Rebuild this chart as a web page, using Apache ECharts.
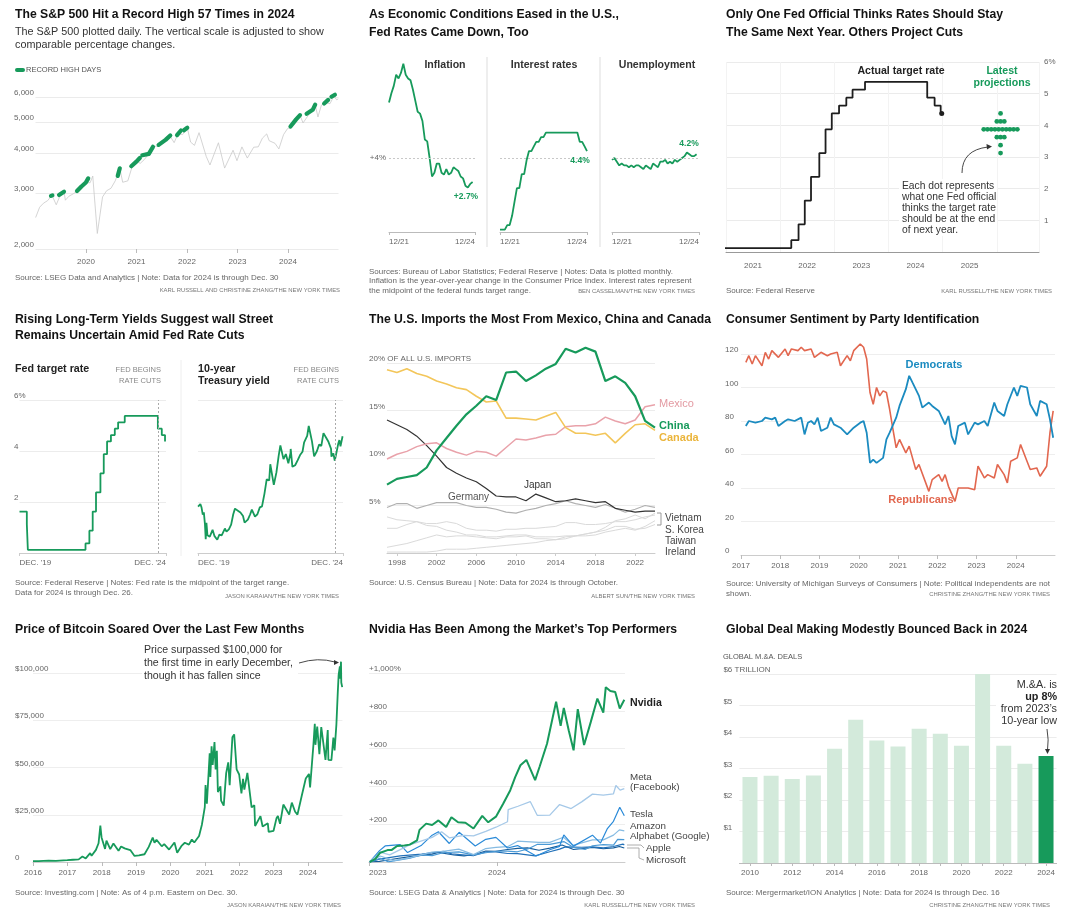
<!DOCTYPE html>
<html><head><meta charset="utf-8">
<script src="https://cdn.jsdelivr.net/npm/echarts@6/dist/echarts.min.js"></script>
<style>html,body{margin:0;padding:0;background:#fff}#c{width:1071px;height:921px}</style>
</head><body><div id="c"></div><script>
// ---------------- DATA ----------------
// Panel 1: S&P 500 (gray daily line, approximated) and record-high stretches
const spDates = ['2019-01-02','2019-01-31','2019-02-28','2019-03-29','2019-04-30','2019-05-31','2019-06-28','2019-07-26','2019-08-05','2019-08-30','2019-09-30','2019-10-31','2019-11-29','2019-12-31','2020-01-31','2020-02-19','2020-03-23','2020-04-30','2020-05-29','2020-06-30','2020-07-31','2020-09-02','2020-09-23','2020-10-30','2020-11-30','2020-12-31','2021-01-29','2021-02-26','2021-03-31','2021-04-30','2021-05-28','2021-06-30','2021-07-30','2021-08-31','2021-09-30','2021-10-29','2021-11-30','2022-01-03','2022-01-27','2022-02-24','2022-03-29','2022-05-20','2022-06-16','2022-08-16','2022-09-30','2022-10-12','2022-11-30','2022-12-28','2023-02-02','2023-03-13','2023-04-28','2023-05-31','2023-06-30','2023-07-31','2023-08-18','2023-09-29','2023-10-27','2023-11-30','2023-12-29','2024-01-31','2024-02-29','2024-03-28','2024-04-19','2024-05-31','2024-06-28','2024-07-16','2024-08-05','2024-08-30','2024-09-30','2024-10-31','2024-11-29','2024-12-06','2024-12-18','2024-12-30'];
const spValues = [2510,2704,2784,2834,2946,2752,2942,3025,2844,2926,2977,3038,3141,3231,3226,3386,2237,2912,3044,3100,3271,3580,3237,3270,3622,3756,3714,3811,3973,4181,4204,4298,4395,4523,4308,4605,4567,4797,4326,4225,4631,3901,3667,4305,3586,3577,4080,3783,4179,3855,4169,4180,4450,4589,4370,4288,4117,4568,4770,4846,5096,5254,4967,5278,5460,5667,5186,5648,5762,5705,6032,6090,5872,5907];
const spRecordStretches = [
  [['2019-04-23',2934],['2019-05-03',2946]],
  [['2019-06-20',2954],['2019-07-26',3025]],
  [['2019-10-28',3040],['2019-11-29',3141],['2019-12-31',3231],['2020-01-17',3330]],
  [['2020-08-18',3390],['2020-09-02',3580]],
  [['2020-11-24',3635],['2020-12-31',3756],['2021-01-25',3855]],
  [['2021-02-12',3934],['2021-03-31',3973],['2021-04-30',4181]],
  [['2021-06-10',4239],['2021-07-30',4395],['2021-09-02',4537]],
  [['2021-10-21',4549],['2021-11-18',4704]],
  [['2021-12-10',4712],['2022-01-03',4797]],
  [['2024-01-19',4840],['2024-02-29',5096],['2024-03-28',5254]],
  [['2024-05-15',5308],['2024-06-28',5460],['2024-07-16',5667]],
  [['2024-09-19',5714],['2024-10-18',5865]],
  [['2024-11-11',6001],['2024-12-06',6090]]
];
const spTicks = [2000,3000,4000,5000,6000];

// Panel 2: monthly from Dec 2021
const inflation = [7.0,7.5,7.9,8.5,8.3,8.6,9.1,8.5,8.3,8.2,7.7,7.1,6.5,6.4,6.0,5.0,4.9,4.0,3.0,3.2,3.7,3.7,3.2,3.1,3.4,3.1,3.2,3.5,3.4,3.3,3.0,2.9,2.5,2.4,2.6,2.7];
const interestRates = [0.125,0.125,0.125,0.375,0.375,0.875,1.625,2.375,2.375,3.125,3.125,3.875,4.375,4.375,4.625,4.875,4.875,5.125,5.125,5.375,5.375,5.375,5.375,5.375,5.375,5.375,5.375,5.375,5.375,5.375,5.375,5.375,5.375,4.875,4.875,4.625,4.375];
const unemployment = [3.9,4.0,3.8,3.6,3.7,3.6,3.6,3.5,3.6,3.5,3.6,3.6,3.5,3.4,3.6,3.5,3.4,3.7,3.6,3.5,3.8,3.8,3.9,3.7,3.8,3.7,3.9,3.8,3.9,4.0,4.1,4.3,4.2,4.1,4.1,4.2];

// Panels 3 & 4: fed target rate midpoint (change dates)
const fedDates = ['2019-12-01','2020-03-03','2020-03-16','2022-03-17','2022-05-05','2022-06-16','2022-07-28','2022-09-22','2022-11-03','2022-12-15','2023-02-02','2023-03-23','2023-05-04','2023-07-27','2024-09-19','2024-11-08','2024-12-19','2024-12-26'];
const fedRates = [1.625,1.125,0.125,0.375,0.875,1.625,2.375,3.125,3.875,4.375,4.625,4.875,5.125,5.375,4.875,4.625,4.375,4.375];
const projRates = [4.375,4.125,3.875,3.625,3.375,3.125];
const projCounts = [1,3,10,3,1,1];

// Panel 4: 10-year Treasury yield
const tyDates = ['2019-12-02','2019-12-31','2020-01-15','2020-01-31','2020-02-14','2020-02-28','2020-03-09','2020-03-18','2020-03-31','2020-04-15','2020-04-30','2020-05-15','2020-06-05','2020-06-30','2020-07-15','2020-08-04','2020-08-31','2020-09-30','2020-10-15','2020-11-10','2020-11-30','2020-12-31','2021-01-29','2021-02-25','2021-03-19','2021-03-31','2021-04-30','2021-05-28','2021-06-30','2021-07-20','2021-08-31','2021-09-30','2021-10-21','2021-11-30','2021-12-31','2022-01-31','2022-02-28','2022-03-31','2022-04-29','2022-05-31','2022-06-14','2022-07-29','2022-08-31','2022-09-30','2022-10-21','2022-11-30','2022-12-30','2023-01-31','2023-02-28','2023-03-02','2023-03-24','2023-04-28','2023-05-31','2023-06-30','2023-07-31','2023-08-21','2023-09-29','2023-10-19','2023-11-30','2023-12-27','2024-01-31','2024-02-29','2024-03-28','2024-04-25','2024-05-31','2024-06-28','2024-07-31','2024-08-05','2024-08-30','2024-09-16','2024-09-30','2024-10-31','2024-11-15','2024-11-29','2024-12-06','2024-12-26'];
const tyValues = [1.82,1.92,1.79,1.51,1.59,1.13,0.54,1.18,0.70,0.63,0.64,0.64,0.91,0.66,0.62,0.52,0.72,0.69,0.73,0.96,0.84,0.93,1.11,1.52,1.74,1.74,1.65,1.59,1.45,1.19,1.31,1.52,1.70,1.43,1.52,1.79,1.83,2.32,2.89,2.85,3.48,2.67,3.15,3.83,4.22,3.68,3.88,3.52,3.92,4.08,3.38,3.44,3.64,3.84,3.97,4.34,4.59,4.98,4.37,3.79,3.99,4.25,4.20,4.70,4.51,4.36,4.09,3.78,3.91,3.62,3.81,4.28,4.43,4.18,4.15,4.58];
const rateCutDate = '2024-09-18';

// Panel 5: share of US imports (%), 1997-2024
const importYears = [1997,1998,1999,2000,2001,2002,2003,2004,2005,2006,2007,2008,2009,2010,2011,2012,2013,2014,2015,2016,2017,2018,2019,2020,2021,2022,2023,2024];
const chinaShare   = [7.2,7.8,8.0,8.2,9.0,10.8,12.1,13.4,14.6,15.5,16.5,16.1,19.0,19.1,18.1,18.7,19.4,19.9,21.5,21.1,21.6,21.2,18.1,18.6,17.9,16.5,13.9,13.2];
const mexicoShare  = [9.9,10.4,10.7,11.2,11.5,11.6,11.0,10.6,10.3,10.7,10.6,10.2,11.1,12.0,11.9,12.1,12.4,12.5,13.3,13.4,13.4,13.6,14.3,13.9,13.6,14.0,15.4,15.6];
const canadaShare  = [19.3,19.0,19.4,18.9,18.6,18.1,17.8,17.4,17.2,16.5,15.9,16.0,14.2,14.2,14.1,14.0,14.4,14.8,13.2,12.6,12.6,12.4,12.6,11.6,12.6,13.5,13.6,12.9];
const japanShare   = [14.0,13.5,13.0,12.3,11.3,10.2,9.0,8.4,7.9,7.5,6.8,6.0,5.9,5.9,5.5,6.2,5.8,5.4,5.5,5.7,5.5,5.3,5.4,4.7,4.5,4.3,4.4,4.4];
const germanyShare = [4.8,5.2,5.2,4.7,5.0,5.3,5.3,5.3,5.0,4.8,4.8,4.6,4.3,4.2,4.5,4.7,5.0,5.2,5.5,5.2,5.0,4.8,5.1,4.7,4.3,4.6,5.0,4.8];
const vietnamShare = [0.1,0.1,0.1,0.1,0.1,0.2,0.4,0.4,0.4,0.5,0.6,0.7,0.8,0.9,1.0,1.1,1.3,1.4,1.7,1.8,2.0,2.2,2.7,3.4,3.6,4.0,3.6,4.2];
const koreaShare   = [2.6,2.6,3.0,3.3,3.1,3.1,3.3,3.1,2.6,2.4,2.4,2.3,2.5,2.5,2.6,2.6,2.7,2.8,3.2,3.2,3.0,3.0,3.1,3.3,3.3,3.5,3.8,4.0];
const taiwanShare  = [3.8,3.5,3.4,3.3,2.9,2.8,2.4,2.2,1.9,1.9,1.7,1.7,1.8,1.9,1.9,1.7,1.7,1.7,1.8,1.8,1.8,1.9,2.2,2.4,2.6,2.4,2.8,3.4];
const irelandShare = [0.6,0.8,1.0,1.3,1.6,1.9,1.7,1.8,1.8,1.7,1.6,1.5,1.7,1.7,1.8,1.5,1.5,1.4,1.5,1.8,2.0,2.2,2.4,2.8,2.8,2.5,2.6,3.0];

// Panel 6: consumer sentiment
const demMonths = ['2017-02','2017-03','2017-05','2017-07','2017-08','2017-10','2017-11','2017-12','2018-02','2018-03','2018-05','2018-07','2018-08','2018-09','2018-10','2018-11','2018-12','2019-01','2019-03','2019-04','2019-05','2019-07','2019-09','2019-11','2020-01','2020-02','2020-03','2020-04','2020-05','2020-06','2020-08','2020-09','2020-10','2020-12','2021-01','2021-03','2021-04','2021-05','2021-07','2021-08','2021-10','2021-11','2022-01','2022-03','2022-04','2022-05','2022-06','2022-07','2022-09','2022-10','2022-12','2023-01','2023-03','2023-04','2023-06','2023-07','2023-09','2023-10','2023-12','2024-01','2024-02','2024-04','2024-05','2024-07','2024-08','2024-10','2024-11','2024-12'];
const demValues = [77,80,79,80,82,81,82,77,80,81,80,82,72,79,80,78,82,74,76,82,78,76,72,76,79,80,73,55,57,55,58,69,73,82,89,99,107,103,95,88,91,89,86,78,83,71,66,77,79,72,79,78,80,77,91,86,83,90,100,95,101,100,90,83,92,90,81,70];
const repMonths = ['2017-02','2017-03','2017-04','2017-05','2017-07','2017-08','2017-09','2017-10','2017-12','2018-02','2018-03','2018-04','2018-06','2018-07','2018-08','2018-10','2018-11','2019-01','2019-03','2019-04','2019-06','2019-07','2019-09','2019-10','2019-11','2020-01','2020-02','2020-03','2020-04','2020-05','2020-06','2020-07','2020-08','2020-09','2020-10','2020-11','2020-12','2021-01','2021-03','2021-04','2021-06','2021-07','2021-10','2021-11','2022-01','2022-02','2022-03','2022-04','2022-06','2022-07','2022-09','2022-10','2022-12','2023-01','2023-03','2023-04','2023-06','2023-07','2023-09','2023-10','2023-11','2024-01','2024-02','2024-04','2024-05','2024-07','2024-08','2024-10','2024-11','2024-12'];
const repValues = [115,119,114,119,113,121,117,122,118,123,119,123,122,124,122,123,118,121,119,120,121,113,119,116,122,126,124,117,97,90,100,95,98,97,87,75,64,69,61,65,51,54,38,45,48,44,48,41,32,40,40,40,39,53,46,48,46,54,48,43,56,58,66,56,51,52,47,53,73,86];

// Panel 7: bitcoin price ($)
const btcDates = ['2016-01-01','2016-03-01','2016-06-15','2016-09-01','2016-12-31','2017-03-01','2017-05-01','2017-06-10','2017-07-15','2017-08-31','2017-09-15','2017-10-31','2017-11-28','2017-12-17','2017-12-30','2018-01-15','2018-02-05','2018-02-20','2018-04-01','2018-05-05','2018-06-28','2018-07-25','2018-09-01','2018-10-31','2018-12-15','2019-01-31','2019-03-31','2019-05-15','2019-06-26','2019-07-15','2019-08-05','2019-09-30','2019-10-26','2019-12-17','2020-02-12','2020-03-12','2020-04-30','2020-06-01','2020-07-15','2020-08-15','2020-09-10','2020-10-31','2020-11-30','2020-12-31','2021-01-08','2021-01-22','2021-02-21','2021-02-28','2021-03-13','2021-03-25','2021-04-13','2021-04-25','2021-05-08','2021-05-19','2021-06-15','2021-06-22','2021-07-20','2021-08-15','2021-09-06','2021-09-21','2021-10-20','2021-11-08','2021-12-04','2021-12-31','2022-01-24','2022-02-10','2022-02-24','2022-03-28','2022-05-12','2022-06-10','2022-06-18','2022-08-14','2022-09-06','2022-10-31','2022-11-09','2022-12-31','2023-01-31','2023-02-15','2023-03-10','2023-04-14','2023-06-15','2023-07-13','2023-08-17','2023-09-11','2023-10-24','2023-12-08','2024-01-11','2024-01-23','2024-02-28','2024-03-13','2024-03-20','2024-04-08','2024-05-01','2024-05-21','2024-06-07','2024-07-05','2024-07-29','2024-08-05','2024-09-06','2024-09-27','2024-10-10','2024-10-29','2024-11-13','2024-11-22','2024-12-05','2024-12-09','2024-12-17','2024-12-20','2024-12-30'];
const btcPrices = [430,430,700,600,960,1200,1400,2900,1900,4700,3300,6400,9900,19300,13000,13600,6900,11300,6800,9800,5900,8200,7200,6300,3200,3450,4100,8000,12900,10200,11800,8300,9500,6600,10300,4900,8700,10200,9200,11900,10300,13800,19700,29000,40700,30800,57500,45000,61200,51300,63500,49000,58800,37000,40000,32500,29800,47000,52700,40700,66000,67500,49000,46300,36300,44000,38300,47100,28900,30000,19000,24300,18800,20500,15900,16500,23100,24300,20200,30400,25100,31400,26600,25100,34500,44200,46600,39500,62400,73100,62000,71600,57000,71400,71000,54000,69800,54000,53900,65800,59000,72700,90000,99000,103500,97000,106000,95000,92500];

// Panel 8: cumulative % change since start of 2023
const nvdaDates = ['2023-01-03','2023-01-19','2023-02-02','2023-02-23','2023-03-07','2023-03-22','2023-04-12','2023-04-27','2023-05-18','2023-05-25','2023-06-13','2023-06-30','2023-07-18','2023-08-09','2023-08-24','2023-09-12','2023-10-03','2023-10-26','2023-11-20','2023-12-07','2023-12-29','2024-01-19','2024-02-08','2024-02-22','2024-03-08','2024-03-25','2024-04-19','2024-05-02','2024-05-23','2024-06-18','2024-07-01','2024-07-10','2024-07-24','2024-08-07','2024-08-19','2024-09-06','2024-09-25','2024-10-14','2024-10-31','2024-11-07','2024-11-20','2024-12-04','2024-12-17','2024-12-30'];
const nvdaPct = [0,16,49,63,64,85,87,92,115,170,203,196,220,185,237,210,208,177,244,210,240,310,380,449,512,540,433,505,626,848,720,815,697,591,809,619,740,865,790,925,905,900,812,858];
const metaDates = ['2023-01-03','2023-02-02','2023-03-01','2023-04-27','2023-06-30','2023-07-27','2023-08-18','2023-09-29','2023-10-26','2023-11-30','2023-12-29','2024-01-31','2024-02-02','2024-03-01','2024-04-05','2024-04-25','2024-05-31','2024-06-28','2024-07-31','2024-08-30','2024-09-30','2024-10-31','2024-11-29','2024-12-06','2024-12-18','2024-12-30'];
const metaPct = [0,52,38,91,130,160,128,141,138,162,184,213,277,295,320,247,248,304,283,318,359,354,361,405,380,388];
const teslaDates = ['2023-01-03','2023-01-31','2023-02-16','2023-03-31','2023-04-21','2023-05-31','2023-06-30','2023-07-18','2023-08-18','2023-09-15','2023-10-31','2023-11-30','2023-12-29','2024-01-31','2024-02-29','2024-04-22','2024-05-31','2024-06-28','2024-07-10','2024-08-07','2024-09-30','2024-10-23','2024-10-25','2024-11-11','2024-11-29','2024-12-17','2024-12-30'];
const teslaPct = [0,60,85,92,50,89,142,160,98,157,85,120,130,74,87,32,65,83,143,84,142,100,110,175,215,290,245];
const amznDates = ['2023-01-03','2023-02-02','2023-03-13','2023-04-28','2023-06-30','2023-07-31','2023-09-14','2023-10-26','2023-11-30','2023-12-29','2024-01-31','2024-02-29','2024-04-30','2024-05-31','2024-07-09','2024-08-05','2024-09-30','2024-10-31','2024-11-29','2024-12-16','2024-12-30'];
const amznPct = [0,32,7,23,52,56,68,39,71,77,81,110,104,104,131,88,117,117,142,170,165];
const googDates = ['2023-01-03','2023-02-02','2023-02-24','2023-04-28','2023-05-31','2023-06-30','2023-07-31','2023-09-14','2023-10-26','2023-11-30','2023-12-29','2024-01-31','2024-02-28','2024-03-29','2024-04-26','2024-05-31','2024-07-10','2024-08-07','2024-09-09','2024-09-30','2024-10-31','2024-11-29','2024-12-11','2024-12-30'];
const googPct = [0,20,1,20,38,34,49,54,38,49,57,58,54,69,94,93,108,77,66,86,92,89,120,118];
const aaplDates = ['2023-01-03','2023-01-31','2023-03-31','2023-05-31','2023-07-31','2023-08-25','2023-10-26','2023-11-30','2023-12-29','2024-01-31','2024-02-29','2024-04-19','2024-05-31','2024-06-28','2024-07-15','2024-08-30','2024-09-30','2024-10-31','2024-11-29','2024-12-26','2024-12-30'];
const aaplPct = [0,15,32,42,57,43,33,53,54,45,44,32,54,68,80,78,80,75,82,95,90];
const msftDates = ['2023-01-03','2023-01-31','2023-03-31','2023-04-28','2023-06-30','2023-07-18','2023-08-31','2023-09-29','2023-10-31','2023-11-30','2023-12-29','2024-01-31','2024-02-29','2024-03-28','2024-04-30','2024-05-31','2024-07-05','2024-08-07','2024-09-30','2024-10-31','2024-11-29','2024-12-16','2024-12-30'];
const msftPct = [0,3,21,28,42,51,37,32,41,58,57,66,72,75,62,73,90,66,77,70,75,82,74];

// Panel 9: global M&A deals ($ trillion)
const dealYears = [2010,2011,2012,2013,2014,2015,2016,2017,2018,2019,2020,2021,2022,2023,2024];
const dealValues = [2.73,2.77,2.67,2.78,3.63,4.55,3.89,3.70,4.26,4.10,3.72,6.03,3.72,3.15,3.40];

// ---------------- HELPERS ----------------
const FF = "'Liberation Sans', Arial, Helvetica, sans-serif";
const GREEN = '#179a5b';
function dy(s){ const p = s.split('-').map(Number); const y = p[0], m = (p[1]||1)-1, d = p[2]||15;
  const t = Date.UTC(y,m,d), a = Date.UTC(y,0,1), b = Date.UTC(y+1,0,1); return y + (t-a)/(b-a); }
const mo0 = dy('2019-12-01');
function mo(s){ return (dy(s)-mo0)*12; }
function pairs(dates, vals, f){ return dates.map((d,i)=>[f(d), vals[i]]); }
function range(a,b){ const r=[]; for(let v=a; v<=b; v++) r.push(v); return r; }
const AX = {fontSize:8, color:'#666', fontFamily:FF};
const noLine = {show:false}, noTick = {show:false};

// ---------------- GRIDS ----------------
const grids = [
  {left:35.5, top:90, width:303, height:159},   // 0 S&P
  {left:389, top:47, width:86, height:185},     // 1 inflation
  {left:500, top:47, width:87, height:185},     // 2 interest
  {left:612, top:47, width:87, height:185},     // 3 unemployment
  {left:726, top:62, width:313, height:190},    // 4 fed dots
  {left:19.5, top:400, width:146.5, height:153},// 5 fed target
  {left:198, top:400, width:145, height:153},   // 6 10-yr
  {left:387, top:363, width:268, height:190},   // 7 imports
  {left:741, top:354, width:314, height:201},   // 8 sentiment
  {left:33, top:673, width:309.4, height:189},  // 9 bitcoin
  {left:369, top:673, width:256, height:189},   // 10 nvidia
  {left:739.4, top:674, width:317.2, height:189}// 11 M&A
].map(g => Object.assign({containLabel:false, outerBoundsMode:'none'}, g));

const xAxes = [], yAxes = [];
// 0 S&P
xAxes.push({gridIndex:0,type:'value',min:2019,max:2025,interval:1,axisLine:noLine,axisTick:{show:true,length:4,customValues:range(2020,2024),lineStyle:{color:'#bbb'}},splitLine:{show:false},axisLabel:Object.assign({},AX,{margin:9,customValues:range(2020,2024),formatter:v=>String(v)})});
yAxes.push({gridIndex:0,type:'log',logBase:10,min:2000,max:6300,axisLine:noLine,axisTick:{show:false,customValues:spTicks},splitLine:{show:true,lineStyle:{color:'#ebebeb'}},axisLabel:Object.assign({},AX,{customValues:spTicks,align:'left',verticalAlign:'bottom',margin:21.5,formatter:v=>Number(v).toLocaleString('en-US')})});
// 1-3 small multiples
for (let g=1; g<=3; g++){
  xAxes.push({gridIndex:g,type:'value',min:0,max:36,interval:36,axisLine:{show:true,lineStyle:{color:'#bbb'}},axisTick:{show:true,length:3,lineStyle:{color:'#bbb'}},splitLine:{show:false},axisLabel:Object.assign({},AX,{margin:6,alignMinLabel:'left',alignMaxLabel:'right',formatter:v=>v===0?'12/21':'12/24'})});
  yAxes.push({gridIndex:g,type:'value',min:0,max:10,interval:2,axisLine:noLine,axisTick:noTick,splitLine:{show:false},axisLabel:Object.assign({},AX,{show:g===1,margin:3,formatter:v=>v===4?'+4%':''})});
}
// 4 fed dots
xAxes.push({gridIndex:4,type:'value',min:2021,max:2026.78,interval:1,axisLine:{show:true,lineStyle:{color:'#999'}},axisTick:noTick,splitLine:{show:true,lineStyle:{color:'#f3f3f3'}},axisLabel:Object.assign({},AX,{margin:10,padding:[0,0,0,54],formatter:v=>(Number.isInteger(v)&&v<=2025)?String(v):''})});
yAxes.push({gridIndex:4,type:'value',position:'right',min:0,max:6,interval:1,axisLine:noLine,axisTick:noTick,splitLine:{show:true,lineStyle:{color:'#ebebeb'}},axisLabel:Object.assign({},AX,{align:'left',margin:5,formatter:v=>v===6?'6%':(v===0?'':String(v))})});
// 5-6 fed target & 10-year
for (let g=5; g<=6; g++){
  xAxes.push({gridIndex:g,type:'value',min:0,max:61,interval:61,axisLine:{show:true,lineStyle:{color:'#ccc'}},axisTick:{show:true,length:3,lineStyle:{color:'#ccc'}},splitLine:{show:false},axisLabel:Object.assign({},AX,{margin:6,alignMinLabel:'left',alignMaxLabel:'right',formatter:v=>v===0?"DEC. '19":"DEC. '24"})});
  yAxes.push({gridIndex:g,type:'value',min:0,max:6,interval:2,axisLine:noLine,axisTick:noTick,splitLine:{show:true,lineStyle:{color:'#ececec'}},axisLabel:Object.assign({},AX,{show:g===5,align:'left',verticalAlign:'bottom',margin:5.5,formatter:v=>v===6?'6%':(v===0?'':String(v))})});
}
// 7 imports
const every4 = (i,v)=>((+v)-1998)%4===0;
xAxes.push({gridIndex:7,type:'category',data:importYears.map(String),boundaryGap:false,axisLine:{show:true,lineStyle:{color:'#ccc'}},axisTick:{show:true,length:3,interval:every4,lineStyle:{color:'#ccc'}},splitLine:{show:false},axisLabel:Object.assign({},AX,{margin:6,interval:every4})});
yAxes.push({gridIndex:7,type:'value',min:0,max:20,interval:5,axisLine:noLine,axisTick:noTick,splitLine:{show:true,lineStyle:{color:'#ececec'}},axisLabel:Object.assign({},AX,{align:'left',verticalAlign:'bottom',margin:18,formatter:v=>v===20?'20% OF ALL U.S. IMPORTS':(v===0?'':v+'%')})});
// 8 sentiment
xAxes.push({gridIndex:8,type:'value',min:2017,max:2025,interval:1,axisLine:{show:true,lineStyle:{color:'#ccc'}},axisTick:{show:true,length:4,customValues:range(2017,2024),lineStyle:{color:'#bbb'}},splitLine:{show:false},axisLabel:Object.assign({},AX,{margin:7,formatter:v=>v<2025?String(v):''})});
yAxes.push({gridIndex:8,type:'value',min:0,max:120,interval:20,axisLine:noLine,axisTick:noTick,splitLine:{show:true,lineStyle:{color:'#eeeeee'}},axisLabel:Object.assign({},AX,{align:'left',verticalAlign:'bottom',margin:16})});
// 9 bitcoin
xAxes.push({gridIndex:9,type:'value',min:2016,max:2025,interval:1,axisLine:{show:true,lineStyle:{color:'#ccc'}},axisTick:{show:true,length:4,customValues:range(2016,2024),lineStyle:{color:'#bbb'}},splitLine:{show:false},axisLabel:Object.assign({},AX,{margin:7,formatter:v=>v<2025?String(v):''})});
yAxes.push({gridIndex:9,type:'value',min:0,max:100000,interval:25000,axisLine:noLine,axisTick:noTick,splitLine:{show:true,lineStyle:{color:'#eeeeee'}},axisLabel:Object.assign({},AX,{align:'left',verticalAlign:'bottom',margin:18,formatter:v=>v===0?'0':'$'+Number(v).toLocaleString('en-US')})});
// 10 nvidia
xAxes.push({gridIndex:10,type:'value',min:2023,max:2025,interval:1,axisLine:{show:true,lineStyle:{color:'#ccc'}},axisTick:{show:true,length:4,customValues:[2023,2024],lineStyle:{color:'#bbb'}},splitLine:{show:false},axisLabel:Object.assign({},AX,{margin:7,alignMinLabel:'left',formatter:v=>v<2025?String(v):''})});
yAxes.push({gridIndex:10,type:'value',min:0,max:1000,interval:200,axisLine:noLine,axisTick:noTick,splitLine:{show:true,lineStyle:{color:'#eeeeee'}},axisLabel:Object.assign({},AX,{align:'left',verticalAlign:'bottom',margin:0,formatter:v=>v===0?'':(v===1000?'+1,000%':'+'+v)})});
// 11 M&A
xAxes.push({gridIndex:11,type:'category',data:dealYears.map(String),axisLine:{show:true,lineStyle:{color:'#bbb'}},axisTick:{show:true,length:3,alignWithLabel:true,interval:0,lineStyle:{color:'#bbb'}},splitLine:{show:false},axisLabel:Object.assign({},AX,{margin:6,interval:1})});
yAxes.push({gridIndex:11,type:'value',min:0,max:6,interval:1,axisLine:noLine,axisTick:noTick,splitLine:{show:true,lineStyle:{color:'#ececec'}},axisLabel:Object.assign({},AX,{align:'left',verticalAlign:'bottom',margin:16,formatter:v=>v===0?'':(v===6?'$6 TRILLION':'$'+v)})});

// ---------------- SERIES ----------------
const S = [];
function line(ax, data, color, width, extra){ S.push(Object.assign({type:'line',xAxisIndex:ax,yAxisIndex:ax,data,showSymbol:false,symbol:'none',lineStyle:{color,width},itemStyle:{color},animation:false,silent:true,z:2}, extra||{})); }
const dotted4 = {silent:true,symbol:'none',label:{show:false},lineStyle:{color:'#c8c8c8',type:[2,2],width:1},data:[{yAxis:4}]};

// Panel 1
line(0, pairs(spDates, spValues, dy), '#c9c9c9', 0.8);
spRecordStretches.forEach(seg => line(0, seg.map(p=>[dy(p[0]),p[1]]), GREEN, 4.2, {lineStyle:{color:GREEN,width:4.2,cap:'round',join:'round'},z:3}));
// Panel 2
line(1, inflation.map((v,i)=>[i,v]), GREEN, 1.8, {markLine:dotted4});
line(2, interestRates.map((v,i)=>[i,v]), GREEN, 1.8, {markLine:dotted4});
line(3, unemployment.map((v,i)=>[i,v]), GREEN, 1.8, {markLine:dotted4});
// Panel 3
const fedP3 = fedDates.map((d,i)=>[dy(d), fedRates[i]]);
fedP3[fedP3.length-1] = {value: fedP3[fedP3.length-1], symbol:'circle', symbolSize:5};
line(4, fedP3, '#1e1e1e', 1.8, {step:'end', showSymbol:true, symbol:'none'});
const projData = [];
projRates.forEach((r,k)=>{ const n = projCounts[k]; for (let j=0;j<n;j++) projData.push([2026.07 + (j-(n-1)/2)*0.069, r]); });
S.push({type:'scatter',xAxisIndex:4,yAxisIndex:4,data:projData,symbolSize:4.8,itemStyle:{color:GREEN,opacity:1},animation:false,silent:true});
// Panel 4
line(5, fedDates.map((d,i)=>[mo(d), fedRates[i]]), GREEN, 1.8, {step:'end', markLine:{silent:true,symbol:'none',label:{show:false},lineStyle:{color:'#aaa',type:[2,2],width:1},data:[{xAxis:mo(rateCutDate)}]}});
line(6, tyDates.map((d,i)=>[mo(d), tyValues[i]]), GREEN, 1.8, {markLine:{silent:true,symbol:'none',label:{show:false},lineStyle:{color:'#aaa',type:[2,2],width:1},data:[{xAxis:mo(rateCutDate)}]}});
// Panel 5
const faint = '#dadada';
line(7, irelandShare, faint, 1, {clip:false});
line(7, taiwanShare, faint, 1, {clip:false});
line(7, koreaShare, faint, 1, {clip:false});
line(7, vietnamShare, faint, 1, {clip:false});
line(7, germanyShare, '#b0b0b0', 1.1, {clip:false});
line(7, japanShare, '#333', 1.2, {clip:false});
line(7, mexicoShare, '#e9a2aa', 1.5, {clip:false});
line(7, canadaShare, '#f3c65a', 1.6, {clip:false});
line(7, chinaShare, GREEN, 2.2, {clip:false});
// Panel 6
line(8, pairs(repMonths, repValues, dy), '#e2674f', 1.6, {clip:false});
line(8, pairs(demMonths, demValues, dy), '#1b8bc0', 1.8, {clip:false});
// Panel 7
line(9, pairs(btcDates, btcPrices, dy), GREEN, 1.8, {clip:false});
// Panel 8
line(10, pairs(msftDates, msftPct, dy), '#155c9a', 1.2);
line(10, pairs(aaplDates, aaplPct, dy), '#2170b8', 1.2);
line(10, pairs(googDates, googPct, dy), '#4a9ad6', 1.2);
line(10, pairs(amznDates, amznPct, dy), '#86bbe2', 1.2);
line(10, pairs(teslaDates, teslaPct, dy), '#2a8ad8', 1.2);
line(10, pairs(metaDates, metaPct, dy), '#a6c9e8', 1.3);
line(10, pairs(nvdaDates, nvdaPct, dy), GREEN, 2);
// Panel 9
S.push({type:'bar',xAxisIndex:11,yAxisIndex:11,barWidth:15,animation:false,silent:true,
  data: dealValues.map((v,i)=>({value:v,itemStyle:{color: i===dealValues.length-1 ? GREEN : '#d3eadb'}}))});

// ---------------- TEXT / ANNOTATIONS ----------------
const G = [];
function T(x,y,s,o){ G.push({type:'text',x,y,silent:true,z:100,style:Object.assign({text:s,fill:'#333',fontSize:10,fontFamily:FF,align:'left',verticalAlign:'middle'},o||{})}); }
function P(pts,o){ G.push({type:'polyline',silent:true,z:100,shape:{points:pts},style:Object.assign({stroke:'#999',lineWidth:1,fill:null},o||{})}); }
function tri(pts,c){ G.push({type:'polygon',silent:true,z:100,shape:{points:pts},style:{fill:c||'#333'}}); }
function curve(x1,y1,cx,cy,x2,y2,c){ G.push({type:'bezierCurve',silent:true,z:100,shape:{x1,y1,x2,y2,cpx1:cx,cpy1:cy},style:{stroke:c||'#333',lineWidth:0.9,fill:null}}); }
function box(x,y,w,h){ G.push({type:'rect',silent:true,z:99,shape:{x,y,width:w,height:h},style:{fill:'#ffffff'}}); }
const TT = {fontSize:12.2,fontWeight:'bold',fill:'#121212'};
const SRC = {fontSize:8,fill:'#666'};
const CR = {fontSize:5.9,fill:'#777',align:'right'};
const NOTE = {fontSize:10.6,fill:'#333'};

// Panel 1
T(15,15,'The S&P 500 Hit a Record High 57 Times in 2024',TT);
T(15,32,'The S&P 500 plotted daily. The vertical scale is adjusted to show',{fontSize:10.8,fill:'#333'});
T(15,45,'comparable percentage changes.',{fontSize:10.8,fill:'#333'});
P([[17,70],[23,70]],{stroke:GREEN,lineWidth:4,lineCap:'round'});
T(26,70,'RECORD HIGH DAYS',{fontSize:7.5,fill:'#555'});
T(15,278,'Source: LSEG Data and Analytics | Note: Data for 2024 is through Dec. 30',SRC);
T(340,290,'KARL RUSSELL AND CHRISTINE ZHANG/THE NEW YORK TIMES',CR);
// Panel 2
T(369,15,'As Economic Conditions Eased in the U.S.,',TT);
T(369,33,'Fed Rates Came Down, Too',TT);
T(445,65,'Inflation',{fontSize:10.6,fontWeight:'bold',fill:'#333',align:'center'});
T(544,65,'Interest rates',{fontSize:10.6,fontWeight:'bold',fill:'#333',align:'center'});
T(657,65,'Unemployment',{fontSize:10.6,fontWeight:'bold',fill:'#333',align:'center'});
P([[487,57],[487,247]],{stroke:'#dddddd'});
P([[600,57],[600,247]],{stroke:'#dddddd'});
T(466,197,'+2.7%',{fontSize:8.5,fontWeight:'bold',fill:GREEN,align:'center'});
T(580,161,'4.4%',{fontSize:8.5,fontWeight:'bold',fill:GREEN,align:'center'});
T(689,144,'4.2%',{fontSize:8.5,fontWeight:'bold',fill:GREEN,align:'center'});
T(369,272,'Sources: Bureau of Labor Statistics; Federal Reserve | Notes: Data is plotted monthly.',SRC);
T(369,281,'Inflation is the year-over-year change in the Consumer Price Index. Interest rates represent',SRC);
T(369,291,'the midpoint of the federal funds target range.',SRC);
T(695,291,'BEN CASSELMAN/THE NEW YORK TIMES',CR);
// Panel 3
T(726,15,'Only One Fed Official Thinks Rates Should Stay',TT);
T(726,33,'The Same Next Year. Others Project Cuts',TT);
T(901,71,'Actual target rate',{fontSize:10.6,fontWeight:'bold',fill:'#222',align:'center'});
T(1002,71,'Latest',{fontSize:10.6,fontWeight:'bold',fill:GREEN,align:'center'});
T(1002,83,'projections',{fontSize:10.6,fontWeight:'bold',fill:GREEN,align:'center'});
box(899,179,98,57);
['Each dot represents','what one Fed official','thinks the target rate','should be at the end','of next year.'].forEach((s,i)=>T(902,186+i*11,s,{fontSize:10.3,fill:'#333'}));
curve(962,173,962,150,988,147,'#333');
tri([[992,146.6],[986.5,144],[987,149.6]],'#333');
T(726,291,'Source: Federal Reserve',SRC);
T(1052,291,'KARL RUSSELL/THE NEW YORK TIMES',CR);
// Panel 4
T(15,320,'Rising Long-Term Yields Suggest wall Street',TT);
T(15,336,'Remains Uncertain Amid Fed Rate Cuts',TT);
T(15,369,'Fed target rate',{fontSize:10.7,fontWeight:'bold',fill:'#222'});
T(161,370,'FED BEGINS',{fontSize:7.5,fill:'#888',align:'right'});
T(161,381,'RATE CUTS',{fontSize:7.5,fill:'#888',align:'right'});
T(198,369,'10-year',{fontSize:10.7,fontWeight:'bold',fill:'#222'});
T(198,381,'Treasury yield',{fontSize:10.7,fontWeight:'bold',fill:'#222'});
T(339,370,'FED BEGINS',{fontSize:7.5,fill:'#888',align:'right'});
T(339,381,'RATE CUTS',{fontSize:7.5,fill:'#888',align:'right'});
P([[181,360],[181,556]],{stroke:'#eeeeee'});
T(15,583,'Source: Federal Reserve | Notes: Fed rate is the midpoint of the target range.',SRC);
T(15,593,'Data for 2024 is through Dec. 26.',SRC);
T(339,596,'JASON KARAIAN/THE NEW YORK TIMES',CR);
// Panel 5
T(369,320,'The U.S. Imports the Most From Mexico, China and Canada',TT);
T(659,404,'Mexico',{fontSize:11,fill:'#e39aa2'});
T(659,426,'China',{fontSize:11,fontWeight:'bold',fill:GREEN});
T(659,438,'Canada',{fontSize:11,fontWeight:'bold',fill:'#ebb53c'});
T(524,485,'Japan',{fontSize:10,fill:'#333'});
T(448,497,'Germany',{fontSize:10,fill:'#555'});
T(665,518,'Vietnam',{fontSize:10,fill:'#444'});
T(665,530,'S. Korea',{fontSize:10,fill:'#444'});
T(665,541,'Taiwan',{fontSize:10,fill:'#444'});
T(665,552,'Ireland',{fontSize:10,fill:'#444'});
P([[657,513],[661,513],[661,525],[657,525]],{stroke:'#999'});
T(369,583,'Source: U.S. Census Bureau | Note: Data for 2024 is through October.',SRC);
T(695,596,'ALBERT SUN/THE NEW YORK TIMES',CR);
// Panel 6
T(726,320,'Consumer Sentiment by Party Identification',TT);
T(934,365,'Democrats',{fontSize:11,fontWeight:'bold',fill:'#1b8bc0',align:'center'});
T(921,500,'Republicans',{fontSize:11,fontWeight:'bold',fill:'#e2674f',align:'center'});
T(726,584,'Source: University of Michigan Surveys of Consumers | Note: Political independents are not',SRC);
T(726,594,'shown.',SRC);
T(1050,594,'CHRISTINE ZHANG/THE NEW YORK TIMES',CR);
// Panel 7
T(15,630,'Price of Bitcoin Soared Over the Last Few Months',TT);
box(142,643,156,40);
T(144,650,'Price surpassed $100,000 for',NOTE);
T(144,663,'the first time in early December,',NOTE);
T(144,676,'though it has fallen since',NOTE);
curve(299,663,318,657,335,662,'#333');
tri([[339,662.5],[334,660],[334,665]],'#333');
T(15,893,'Source: Investing.com | Note: As of 4 p.m. Eastern on Dec. 30.',SRC);
T(341,905,'JASON KARAIAN/THE NEW YORK TIMES',CR);
// Panel 8
T(369,630,'Nvidia Has Been Among the Market\u2019s Top Performers',TT);
T(630,703,'Nvidia',{fontSize:10.6,fontWeight:'bold',fill:'#222'});
T(630,777,'Meta',{fontSize:9.8,fill:'#444'});
T(630,787,'(Facebook)',{fontSize:9.8,fill:'#444'});
T(630,814,'Tesla',{fontSize:9.8,fill:'#444'});
T(630,826,'Amazon',{fontSize:9.8,fill:'#444'});
T(630,836,'Alphabet (Google)',{fontSize:9.8,fill:'#444'});
T(646,848,'Apple',{fontSize:9.8,fill:'#444'});
T(646,860,'Microsoft',{fontSize:9.8,fill:'#444'});
P([[627,845],[641,845],[644,848]],{stroke:'#999',lineWidth:0.8});
P([[627,848],[639,848],[639,858],[644,860]],{stroke:'#999',lineWidth:0.8});
T(369,893,'Source: LSEG Data & Analytics | Note: Data for 2024 is through Dec. 30',SRC);
T(695,905,'KARL RUSSELL/THE NEW YORK TIMES',CR);
// Panel 9
T(726,630,'Global Deal Making Modestly Bounced Back in 2024',TT);
T(723,657,'GLOBAL M.&A. DEALS',{fontSize:7.5,fill:'#555'});
box(996,678,62,50);
T(1057,685,'M.&A. is',{fontSize:10.8,fill:'#333',align:'right'});
T(1057,697,'up 8%',{fontSize:10.8,fontWeight:'bold',fill:'#222',align:'right'});
T(1057,709,'from 2023\u2019s',{fontSize:10.8,fill:'#333',align:'right'});
T(1057,721,'10-year low',{fontSize:10.8,fill:'#333',align:'right'});
curve(1047,729,1049,740,1047.5,750,'#333');
tri([[1047.5,754],[1045,749],[1050,749]],'#333');
T(726,893,'Source: Mergermarket/ION Analytics | Note: Data for 2024 is through Dec. 16',SRC);
T(1050,905,'CHRISTINE ZHANG/THE NEW YORK TIMES',CR);

const chart = echarts.init(document.getElementById('c'), null, {renderer:'canvas'});
chart.setOption({
  backgroundColor:'#ffffff',
  animation:false,
  textStyle:{fontFamily:FF},
  grid:grids, xAxis:xAxes, yAxis:yAxes, series:S,
  graphic:{elements:G}
});
</script></body></html>
